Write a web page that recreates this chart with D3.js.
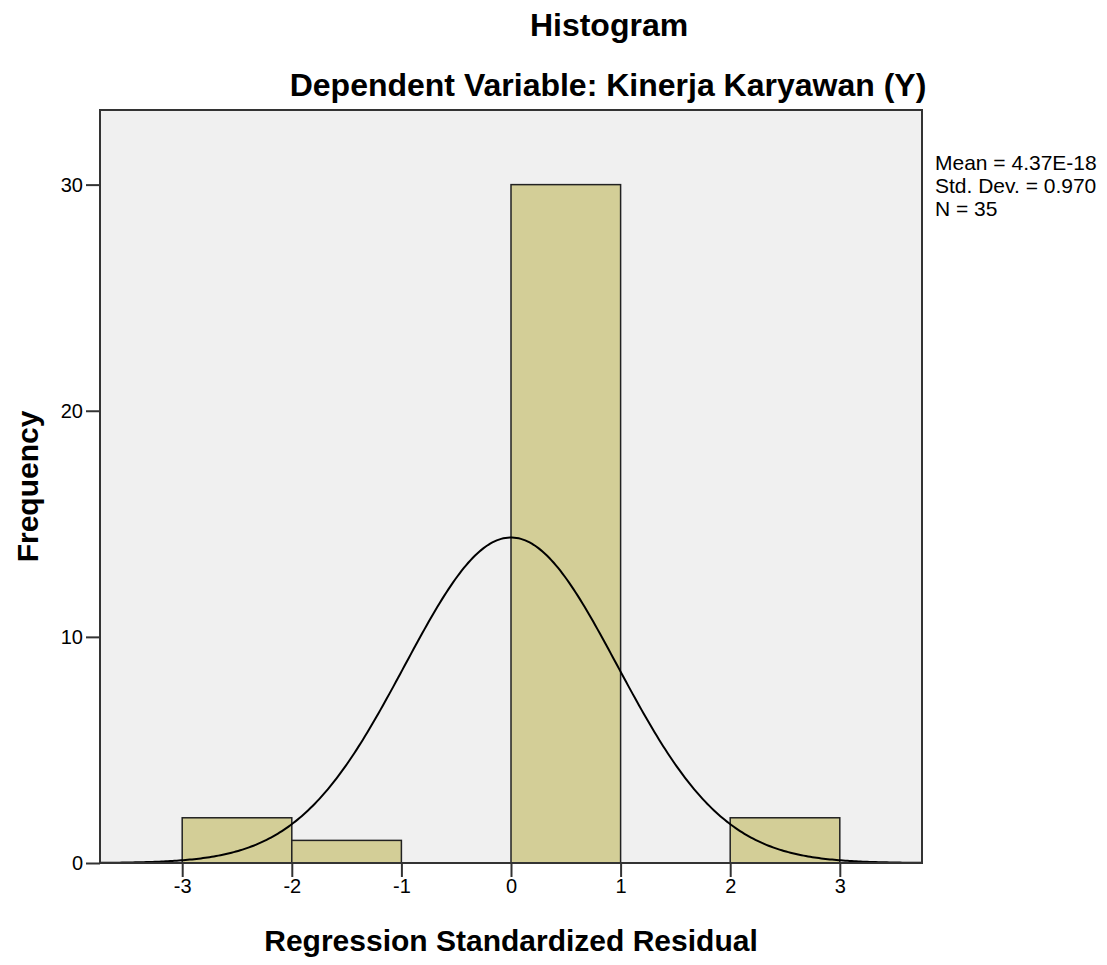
<!DOCTYPE html>
<html lang="en">
<head>
  <meta charset="UTF-8">
  <title>Histogram</title>
  <script src="https://d3js.org/d3.v7.min.js"></script>
  <style>
    body { margin: 0; background: #fff; }
    text { font-family: "Liberation Sans", Arial, sans-serif; fill: #000; }
    .tick text { font-size: 20px; }
  </style>
</head>
<body>
  <script>
    // bins of the residual histogram
    const binStarts = [-3, -2, -1, 0, 1, 2];
    const binWidth = 1;
    const counts = [2, 1, 0, 30, 0, 2];
    const xTicks = [-3, -2, -1, 0, 1, 2, 3];
    const yTicks = [0, 10, 20, 30];
    const stats = ["Mean = 4.37E-18", "Std. Dev. = 0.970", "N = 35"];
    const mean = 4.37e-18, sd = 0.970, n = 35;

    const width = 1107, height = 965;
    const margin = { left: 100, right: 185, top: 110, bottom: 102 };

    const svg = d3.select("body").append("svg")
      .attr("width", width)
      .attr("height", height);

    const x = d3.scaleLinear().domain([-3.75, 3.75])
      .range([margin.left, width - margin.right]);
    const y = d3.scaleLinear().domain([0, 33.3])
      .range([height - margin.bottom, margin.top]);

    // plot background
    svg.append("rect")
      .attr("x", x.range()[0]).attr("y", y.range()[1])
      .attr("width", x.range()[1] - x.range()[0])
      .attr("height", y.range()[0] - y.range()[1])
      .attr("fill", "#f0f0f0");

    // bars
    svg.selectAll(".bar")
      .data(binStarts.map((s, i) => ({ s, c: counts[i] })).filter(d => d.c > 0))
      .enter().append("rect")
      .attr("class", "bar")
      .attr("x", d => x(d.s))
      .attr("y", d => y(d.c))
      .attr("width", d => x(d.s + binWidth) - x(d.s))
      .attr("height", d => y(0) - y(d.c))
      .attr("fill", "#d3ce97")
      .attr("stroke", "#222")
      .attr("stroke-width", 1.5);

    // normal curve
    const pts = d3.range(-3.75, 3.7501, 0.02).map(v => [v,
      n * binWidth / (sd * Math.sqrt(2 * Math.PI)) * Math.exp(-0.5 * ((v - mean) / sd) ** 2)]);
    svg.append("path")
      .datum(pts)
      .attr("fill", "none")
      .attr("stroke", "#000")
      .attr("stroke-width", 2)
      .attr("d", d3.line().x(d => x(d[0])).y(d => y(d[1])));

    // frame
    svg.append("rect")
      .attr("x", x.range()[0]).attr("y", y.range()[1])
      .attr("width", x.range()[1] - x.range()[0])
      .attr("height", y.range()[0] - y.range()[1])
      .attr("fill", "none")
      .attr("stroke", "#333")
      .attr("stroke-width", 2);

    // axes
    const xAxis = svg.append("g")
      .attr("transform", `translate(0,${y(0)})`)
      .call(d3.axisBottom(x).tickValues(xTicks).tickFormat(d => String(d)).tickSize(14).tickPadding(2));
    const yAxis = svg.append("g")
      .attr("transform", `translate(${x.range()[0]},0)`)
      .call(d3.axisLeft(y).tickValues(yTicks).tickSize(14).tickPadding(3));
    [xAxis, yAxis].forEach(g => {
      g.select(".domain").remove();
      g.selectAll(".tick line").attr("stroke", "#333").attr("stroke-width", 2);
      g.selectAll(".tick text").attr("fill", "#000");
    });

    // titles
    svg.append("text")
      .attr("x", 609).attr("y", 36)
      .attr("text-anchor", "middle")
      .style("font-size", "32px").style("font-weight", "bold")
      .text("Histogram");
    svg.append("text")
      .attr("x", 608).attr("y", 96)
      .attr("text-anchor", "middle")
      .style("font-size", "32px").style("font-weight", "bold")
      .text("Dependent Variable: Kinerja Karyawan (Y)");
    svg.append("text")
      .attr("x", x(0)).attr("y", 951)
      .attr("text-anchor", "middle")
      .style("font-size", "30px").style("font-weight", "bold")
      .text("Regression Standardized Residual");
    svg.append("text")
      .attr("transform", `translate(38,${(y.range()[0] + y.range()[1]) / 2}) rotate(-90)`)
      .attr("text-anchor", "middle")
      .style("font-size", "30px").style("font-weight", "bold")
      .text("Frequency");

    // stats legend
    svg.append("g").selectAll("text")
      .data(stats)
      .enter().append("text")
      .attr("x", 935)
      .attr("y", (d, i) => 170 + i * 23)
      .style("font-size", "21px")
      .text(d => d);
  </script>
</body>
</html>
